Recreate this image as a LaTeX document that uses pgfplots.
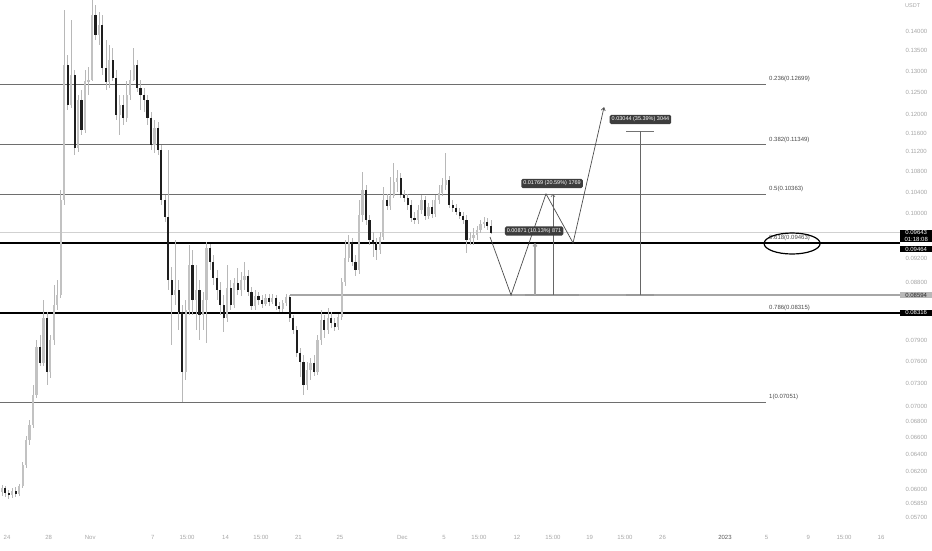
\documentclass[border=0pt]{standalone}
\usepackage{pgfplots}
\pgfplotsset{compat=1.18}
\usepackage{pgfplotstable}
\usepackage{fontspec}
\setmainfont{Liberation Sans}
\usetikzlibrary{arrows.meta}
\definecolor{bull}{HTML}{C2C2C2}
\definecolor{bear}{HTML}{1E1E1E}
\definecolor{wick}{HTML}{B8B8B8}
\definecolor{fib}{HTML}{6E6E6E}
\definecolor{fibtxt}{HTML}{4A4A4A}
\definecolor{lbl}{HTML}{A6A6A6}
\definecolor{tagbg}{HTML}{3D3D3D}
\pgfplotstableread{
o h l c
0.05970 0.06048 0.05926 0.06014
0.06014 0.06037 0.05915 0.05959
0.05959 0.05992 0.05893 0.05937
0.05937 0.06014 0.05904 0.05981
0.05981 0.06026 0.05915 0.05948
0.05948 0.06059 0.05926 0.06037
0.06037 0.06311 0.06014 0.06276
0.06276 0.06622 0.06241 0.06573
0.06573 0.06821 0.06513 0.06759
0.06759 0.07278 0.06721 0.07144
0.07144 0.07909 0.07104 0.07808
0.07808 0.07983 0.07538 0.07579
0.07579 0.08516 0.07538 0.08238
0.08238 0.08329 0.07278 0.07455
0.07455 0.07983 0.07372 0.07909
0.07909 0.08756 0.07836 0.08438
0.08438 0.08837 0.08360 0.08596
0.08596 0.10438 0.08548 0.10247
0.10247 0.14562 0.10153 0.13154
0.13154 0.13400 0.12103 0.12216
0.12216 0.14295 0.12148 0.12913
0.12913 0.13032 0.11137 0.11282
0.11282 0.12444 0.11199 0.12329
0.12329 0.12559 0.11556 0.11663
0.11663 0.13032 0.11599 0.12770
0.12770 0.13105 0.12444 0.12793
0.12793 0.14973 0.12770 0.14429
0.14429 0.14698 0.13776 0.13905
0.13905 0.14509 0.13650 0.14164
0.14164 0.14429 0.12913 0.13081
0.13081 0.13776 0.12559 0.12746
0.12746 0.13650 0.12606 0.13276
0.13276 0.13574 0.12770 0.12841
0.12841 0.13032 0.11881 0.11992
0.11992 0.12444 0.11556 0.12216
0.12216 0.12444 0.11772 0.11925
0.11925 0.12770 0.11837 0.12444
0.12444 0.13032 0.12329 0.12793
0.12793 0.13574 0.12770 0.13154
0.13154 0.13276 0.12513 0.12606
0.12606 0.12793 0.12103 0.12444
0.12444 0.12606 0.12059 0.12329
0.12329 0.12444 0.11772 0.11925
0.11925 0.12059 0.11240 0.11345
0.11345 0.11881 0.11178 0.11707
0.11707 0.11837 0.11137 0.11240
0.11240 0.11345 0.10153 0.10247
0.10247 0.10343 0.09838 0.09929
0.09929 0.11240 0.08675 0.08837
0.08837 0.09052 0.07836 0.08596
0.08596 0.09516 0.08438 0.08675
0.08675 0.08837 0.08056 0.08329
0.08329 0.08438 0.07052 0.07455
0.07455 0.08516 0.07345 0.08360
0.08360 0.09429 0.08284 0.09086
0.09086 0.09341 0.08284 0.08516
0.08516 0.09086 0.08056 0.08675
0.08675 0.08837 0.07909 0.08284
0.08284 0.08643 0.08056 0.08516
0.08516 0.09481 0.07865 0.09376
0.09376 0.09446 0.09002 0.09136
0.09136 0.09256 0.08756 0.08870
0.08870 0.09002 0.08516 0.08675
0.08675 0.08805 0.08284 0.08438
0.08438 0.08596 0.08027 0.08238
0.08238 0.09086 0.08177 0.08707
0.08707 0.08837 0.08360 0.08438
0.08438 0.08870 0.08391 0.08788
0.08788 0.09036 0.08596 0.08675
0.08675 0.08969 0.08580 0.08837
0.08837 0.09136 0.08675 0.08903
0.08903 0.09002 0.08580 0.08643
0.08643 0.08724 0.08360 0.08422
0.08422 0.08675 0.08360 0.08580
0.08580 0.08643 0.08438 0.08516
0.08516 0.08596 0.08391 0.08454
0.08454 0.08611 0.08422 0.08548
0.08548 0.08611 0.08422 0.08485
0.08485 0.08611 0.08454 0.08548
0.08548 0.08596 0.08360 0.08422
0.08422 0.08485 0.08329 0.08376
0.08376 0.08516 0.08329 0.08469
0.08469 0.08611 0.08422 0.08564
0.08564 0.08596 0.08177 0.08238
0.08238 0.08284 0.07997 0.08056
0.08056 0.08116 0.07664 0.07721
0.07721 0.07793 0.07386 0.07593
0.07593 0.07693 0.07144 0.07278
0.07278 0.07593 0.07210 0.07482
0.07482 0.07650 0.07345 0.07579
0.07579 0.07693 0.07400 0.07455
0.07455 0.07983 0.07414 0.07909
0.07909 0.08360 0.07836 0.08207
0.08207 0.08284 0.07938 0.08056
0.08056 0.08391 0.07997 0.08238
0.08238 0.08329 0.08086 0.08162
0.08162 0.08238 0.08041 0.08101
0.08101 0.08299 0.08056 0.08253
0.08253 0.08870 0.08207 0.08805
0.08805 0.09516 0.08740 0.09204
0.09204 0.09605 0.09136 0.09481
0.09481 0.09551 0.09069 0.09136
0.09136 0.09256 0.08903 0.09002
0.09002 0.10247 0.08936 0.09966
0.09966 0.10791 0.09838 0.10438
0.10438 0.10536 0.09784 0.09874
0.09874 0.09966 0.09429 0.09516
0.09516 0.09658 0.09221 0.09446
0.09446 0.09551 0.09170 0.09341
0.09341 0.09658 0.09273 0.09569
0.09569 0.10496 0.09516 0.10247
0.10247 0.10362 0.10059 0.10134
0.10134 0.10692 0.10059 0.10323
0.10323 0.10973 0.10285 0.10594
0.10594 0.10831 0.10400 0.10673
0.10673 0.10772 0.10285 0.10343
0.10343 0.10438 0.10209 0.10285
0.10285 0.10362 0.10059 0.10153
0.10153 0.10247 0.09838 0.09911
0.09911 0.10022 0.09802 0.09874
0.09874 0.10153 0.09802 0.10059
0.10059 0.10343 0.09985 0.10247
0.10247 0.10323 0.09874 0.09948
0.09948 0.10191 0.09893 0.10115
0.10115 0.10247 0.09911 0.09985
0.09985 0.10343 0.09929 0.10247
0.10247 0.10536 0.10172 0.10381
0.10381 0.10673 0.10323 0.10536
0.10536 0.11178 0.10438 0.10633
0.10633 0.10712 0.10097 0.10153
0.10153 0.10247 0.10022 0.10097
0.10097 0.10172 0.09966 0.10022
0.10022 0.10097 0.09893 0.09948
0.09948 0.10022 0.09802 0.09874
0.09874 0.09966 0.09290 0.09516
0.09516 0.09658 0.09429 0.09551
0.09551 0.09729 0.09429 0.09605
0.09605 0.09765 0.09516 0.09693
0.09693 0.09874 0.09640 0.09802
0.09802 0.09929 0.09729 0.09838
0.09838 0.09911 0.09693 0.09765
0.09765 0.09874 0.09622 0.09643
}\candles
\newcommand{\hlev}[4]{\addplot[#4] table[row sep=\\, x=x, y expr=ln(\thisrow{p})] {x p\\ #1 #3\\ #2 #3\\};}
\pgfplotsset{candle/.style={only marks, mark=*, mark size=0pt,
  mark options={draw opacity=0, fill opacity=0},
  error bars/.cd, y dir=both, y explicit, error mark=none}}
\begin{document}
\begin{tikzpicture}
\useasboundingbox (0,0) rectangle (932pt,-550pt);
\begin{axis}[
  at={(0pt,0pt)}, anchor=north west,
  scale only axis, width=900pt, height=525pt,
  xmin=-0.673, xmax=85.82, ymin=-2.87942, ymax=-1.90828,
  clip mode=individual,
  axis line style={draw=none},
  tick style={draw=none},
  yticklabel pos=right,
  tick label style={font=\fontsize{6}{7}\selectfont, text=lbl},
  ytick={-1.96611,-2.00248,-2.04022,-2.07944,-2.12026,-2.15417,-2.18926,-2.22562,-2.26336,-2.30259,-2.38597,-2.43042,-2.53831,-2.57702,-2.61730,-2.65926,-2.68825,-2.71810,-2.74887,-2.78062,-2.81341,-2.83873,-2.86470},
  yticklabels={0.14000,0.13500,0.13000,0.12500,0.12000,0.11600,0.11200,0.10800,0.10400,0.10000,0.09200,0.08800,0.07900,0.07600,0.07300,0.07000,0.06800,0.06600,0.06400,0.06200,0.06000,0.05850,0.05700},
  yticklabel shift=2pt,
  xtick={0,4,8,14,17.30,21,24.41,28,32,38,42,45.36,49,52.47,56,59.39,63,69,73,77,80.44,84},
  xticklabels={24,28,Nov,7,{15:00},14,{15:00},21,25,Dec,5,{15:00},12,{15:00},19,{15:00},26,\textcolor{black!65}{2023},5,9,{15:00},16},
  xticklabel shift=7pt,
]
% horizontal levels
\hlev{-0.673}{85.82}{0.09643}{draw=black!18, line width=1.1pt}
\hlev{27.2}{85.82}{0.08594}{draw=black!35, line width=1.2pt}
\hlev{-0.673}{72.94}{0.12699}{draw=fib, line width=0.8pt}
\hlev{-0.673}{72.94}{0.11349}{draw=fib, line width=0.8pt}
\hlev{-0.673}{72.94}{0.10363}{draw=fib, line width=0.8pt}
\hlev{-0.673}{72.94}{0.07051}{draw=fib, line width=0.8pt}
\hlev{-0.673}{85.82}{0.09464}{draw=black, line width=1.5pt}
\hlev{-0.673}{85.82}{0.08316}{draw=black, line width=1.5pt}
% wicks
\addplot[candle, error bar style={line width=0.6pt, draw=wick}]
  table[x expr=\coordindex/3-0.5, y expr={(ln(\thisrow{h})+ln(\thisrow{l}))/2},
        y error expr={(ln(\thisrow{h})-ln(\thisrow{l}))/2}] {\candles};
% bullish bodies
\addplot[unbounded coords=discard, candle, error bar style={line width=2.2pt, draw=bull}]
  table[x expr=\coordindex/3-0.5, y expr={\thisrow{c}>=\thisrow{o} ? (ln(\thisrow{o})+ln(\thisrow{c}))/2 : nan},
        y error expr={abs(ln(\thisrow{c})-ln(\thisrow{o}))/2+0.0006}] {\candles};
% bearish bodies
\addplot[unbounded coords=discard, candle, error bar style={line width=2.2pt, draw=bear}]
  table[x expr=\coordindex/3-0.5, y expr={\thisrow{c}<\thisrow{o} ? (ln(\thisrow{o})+ln(\thisrow{c}))/2 : nan},
        y error expr={abs(ln(\thisrow{c})-ln(\thisrow{o}))/2+0.0006}] {\candles};
% projection path
\addplot[draw=black!70, line width=0.7pt, -{Straight Barb[length=3pt,width=4pt]}]
  coordinates {(46.42,-2.34668) (48.44,-2.45411) (51.80,-2.26693) (54.40,-2.35767) (57.38,-2.10621)};
% measurements
\addplot[draw=black!40, line width=1.4pt] coordinates {(49.78,-2.45411) (54.97,-2.45411)};
\addplot[draw=black!40, line width=1.4pt] coordinates {(59.49,-2.45411) (62.18,-2.45411)};
\addplot[draw=black!55, line width=0.7pt] coordinates {(59.49,-2.15060) (62.18,-2.15060)};
\addplot[draw=black!35, line width=1.2pt, -{Straight Barb[length=2.5pt,width=4pt]}] coordinates {(50.74,-2.45411) (50.74,-2.35767)};
\addplot[draw=black!60, line width=0.6pt, -{Straight Barb[length=2.5pt,width=4pt]}] coordinates {(52.47,-2.45411) (52.47,-2.26693)};
\addplot[draw=black!60, line width=0.6pt] coordinates {(60.84,-2.45411) (60.84,-2.15060)};
\node[fill=tagbg, text=white, rounded corners=1.5pt, inner sep=2pt, font=\fontsize{5.5}{6}\selectfont] at (axis cs:50.65,-2.33558) {0.00871 (10.13\%) 871};
\node[fill=tagbg, text=white, rounded corners=1.5pt, inner sep=2pt, font=\fontsize{5.5}{6}\selectfont] at (axis cs:52.38,-2.24772) {0.01769 (20.59\%) 1769};
\node[fill=tagbg, text=white, rounded corners=1.5pt, inner sep=2pt, font=\fontsize{5.5}{6}\selectfont] at (axis cs:60.88,-2.12933) {0.03044 (35.39\%) 3044};
% fib labels
\node[anchor=west, inner sep=0pt, yshift=5pt, text=fibtxt, font=\fontsize{6}{7}\selectfont] at (axis cs:73.23,-2.06365) {0.236(0.12699)};
\node[anchor=west, inner sep=0pt, yshift=5pt, text=fibtxt, font=\fontsize{6}{7}\selectfont] at (axis cs:73.23,-2.17604) {0.382(0.11349)};
\node[anchor=west, inner sep=0pt, yshift=5pt, text=fibtxt, font=\fontsize{6}{7}\selectfont] at (axis cs:73.23,-2.26693) {0.5(0.10363)};
\node[anchor=west, inner sep=0pt, yshift=5pt, text=fibtxt, font=\fontsize{6}{7}\selectfont] at (axis cs:73.23,-2.35778) {0.618(0.09463)};
\node[anchor=west, inner sep=0pt, yshift=5pt, text=fibtxt, font=\fontsize{6}{7}\selectfont] at (axis cs:73.23,-2.48711) {0.786(0.08315)};
\node[anchor=west, inner sep=0pt, yshift=5pt, text=fibtxt, font=\fontsize{6}{7}\selectfont] at (axis cs:73.23,-2.65199) {1(0.07051)};
\draw[line width=1.2pt, black] (axis cs:75.45,-2.3587) ellipse [x radius=28pt, y radius=10.5pt];
% price scale tags
\node[anchor=west, fill=black, text=white, inner sep=0.8pt, minimum width=32pt, align=center, font=\fontsize{6}{7}\selectfont] at (axis cs:85.82,-2.34483) {0.09643\\01:18:08};
\node[anchor=west, fill=black, text=white, inner sep=0.8pt, minimum width=32pt, font=\fontsize{6}{7}\selectfont] at (axis cs:85.82,-2.36888) {0.09464};
\node[anchor=west, fill=black!28, text=black!85, inner sep=0.8pt, minimum width=32pt, font=\fontsize{6}{7}\selectfont] at (axis cs:85.82,-2.45411) {0.08594};
\node[anchor=west, fill=black, text=white, inner sep=0.8pt, minimum width=32pt, font=\fontsize{6}{7}\selectfont] at (axis cs:85.82,-2.48699) {0.08316};
\node[anchor=west, text=lbl, inner sep=0pt, xshift=5pt, font=\fontsize{5.5}{6}\selectfont] at (axis cs:85.82,-1.91938) {USDT};
\end{axis}
\end{tikzpicture}
\end{document}
